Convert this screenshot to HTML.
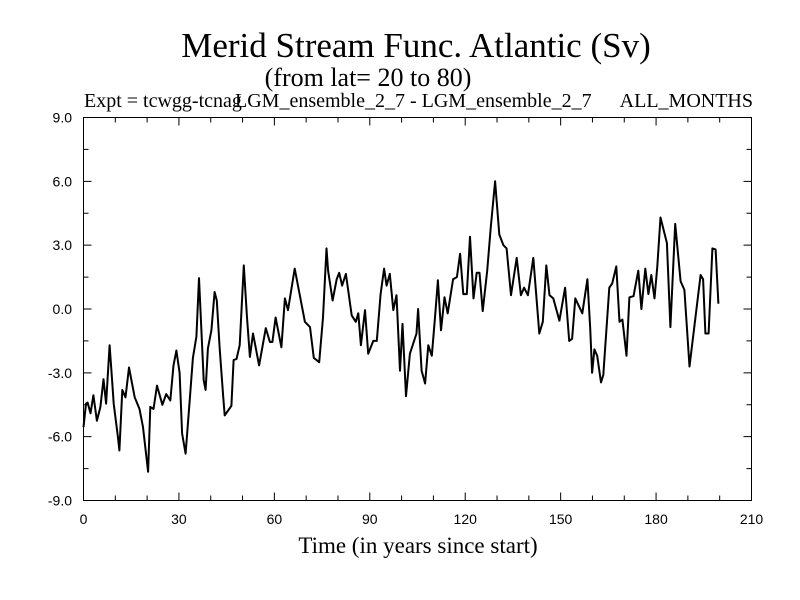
<!DOCTYPE html>
<html><head><meta charset="utf-8"><style>
body{margin:0;background:#fff}
svg{display:block}
text{font-family:"Liberation Serif",serif;fill:#000}
.tk{font-family:"Liberation Sans",sans-serif;font-size:14px}
</style></head><body>
<svg id="chart" width="800" height="600" xmlns="http://www.w3.org/2000/svg">
<text x="416" y="57" font-size="35" text-anchor="middle">Merid Stream Func. Atlantic (Sv)</text>
<text x="368" y="86" font-size="26" text-anchor="middle">(from lat= 20 to 80)</text>
<text x="84" y="107" font-size="20">Expt = tcwgg-tcnag</text>
<text x="235" y="107" font-size="20">LGM_ensemble_2_7 - LGM_ensemble_2_7</text>
<text x="753" y="107" font-size="20" text-anchor="end">ALL_MONTHS</text>
<text x="418" y="553" font-size="23" text-anchor="middle">Time (in years since start)</text>
<g id="axes"></g>
<path id="series" fill="none" stroke="#000" stroke-width="2" stroke-linejoin="round"/>
</svg>
<script>
const years=[0,0.8,1.3,2.2,3.1,4.2,5.3,6.3,7.1,8.2,9.0,9.5,10.8,11.3,12.2,13.2,14.3,16.1,17.6,18.7,20.3,21,22,23.1,24.8,26,27.3,28.3,29.2,30.2,31,32.1,33.4,34.4,35.5,36.3,37.8,38.4,39.1,40.2,41.2,41.9,42.8,43.9,44.4,45.8,46.5,47.2,48.1,49.1,50.4,51.4,52.3,53.3,55.2,57.3,58.6,59.4,60.4,62.2,63.3,64.3,66.4,69.6,71.2,72.4,74.1,75.3,76.4,76.9,78.3,79.6,80.4,81.3,82.5,84.3,85.6,86.4,87.2,88.5,89.5,91.1,92.2,93.4,94.5,95.3,96.3,97.4,98.4,99.5,100.3,101.4,102.6,104.7,105.2,106.3,107.4,108.4,109.5,110.5,111.4,112.4,113.5,114.5,116.2,117.4,118.4,119.4,120.5,121.5,122.6,123.6,124.5,125.5,126.9,128,129.4,130.7,132,133,134.4,136.2,137.5,138.5,139.7,141.4,143.3,144.4,145.5,146.5,147.7,149.6,151.4,152.7,153.6,154.6,156.8,158.4,159.3,159.9,160.6,161.5,162.7,163.4,165.3,166.2,167.5,168.5,169.4,170.7,171.6,172.9,174.4,175.4,176.6,177.6,178.5,179.5,180.4,181.4,183.4,184.5,186,187.7,188.9,190.5,194,194.8,195.5,196.5,197.7,198.7,199.6];
const values=[-5.55,-4.45,-4.4,-4.9,-4.05,-5.25,-4.6,-3.3,-4.45,-1.7,-3.35,-4.45,-6.0,-6.65,-3.8,-4.15,-2.75,-4.15,-4.7,-5.55,-7.65,-4.6,-4.7,-3.6,-4.5,-4.0,-4.3,-2.65,-1.95,-3.0,-5.85,-6.8,-4.3,-2.3,-1.3,1.45,-3.35,-3.8,-1.85,-1.0,0.8,0.4,-1.8,-4.05,-5.0,-4.7,-4.55,-2.4,-2.35,-1.7,2.05,-0.4,-2.25,-1.15,-2.65,-0.9,-1.55,-1.55,-0.4,-1.8,0.5,-0.05,1.9,-0.6,-0.85,-2.3,-2.5,-0.4,2.85,1.8,0.4,1.4,1.7,1.1,1.65,-0.3,-0.6,-0.2,-1.7,-0.05,-2.1,-1.5,-1.5,0.7,1.9,1.1,1.65,-0.05,0.65,-2.9,-0.7,-4.1,-2.1,-1.15,0.0,-2.9,-3.5,-1.7,-2.2,-0.4,1.35,-1.0,0.55,-0.2,1.4,1.5,2.6,0.7,0.7,3.4,0.5,1.7,1.7,-0.1,1.8,3.8,6.0,3.5,3.0,2.85,0.65,2.4,0.65,1.0,0.65,2.4,-1.15,-0.6,2.05,0.65,0.5,-0.55,1.0,-1.5,-1.4,0.5,-0.2,1.4,-0.9,-3.0,-1.9,-2.2,-3.45,-3.1,1.0,1.2,2.0,-0.6,-0.5,-2.2,0.55,0.6,1.8,0.0,1.9,0.7,1.6,0.5,2.0,4.3,3.1,-0.85,4.0,1.3,0.9,-2.7,1.6,1.4,-1.15,-1.15,2.85,2.8,0.25];
const xTicks=[0,30,60,90,120,150,180,210];
const xTickLabels=["0","30","60","90","120","150","180","210"];
const yTicks=[-9,-6,-3,0,3,6,9];
const yTickLabels=["-9.0","-6.0","-3.0","0.0","3.0","6.0","9.0"];
const X0=83.5,X1=751.5,Y0=500.5,Y1=117.5;
const xs=v=>X0+(v-0)/210*(X1-X0);
const ys=v=>Y0-(v+9)/18*(Y0-Y1);
const NS="http://www.w3.org/2000/svg";
const ax=document.getElementById('axes');
function mk(tag,at){const e=document.createElementNS(NS,tag);for(const k in at)e.setAttribute(k,at[k]);ax.appendChild(e);return e;}
const fr=mk('rect',{x:X0,y:Y1,width:X1-X0,height:Y0-Y1,fill:'none',stroke:'#000','stroke-width':1});


let d='';
for(let v=0;v<=210;v+=10){const x=xs(v);const L=(v%30===0)?8:5;d+=`M${x},${Y0}v${-L}M${x},${Y1}v${L}`;}
for(let v=-9;v<=9;v+=1.5){const y=ys(v);const L=(Math.abs(v%3)<1e-9)?8:5;d+=`M${X0},${y}h${L}M${X1},${y}h${-L}`;}
const tp=mk('path',{d:d,stroke:'#000','stroke-width':1,fill:'none'});


xTicks.forEach((v,i)=>{const t=mk('text',{x:xs(v),y:524,'text-anchor':'middle',class:'tk'});t.textContent=xTickLabels[i];

});
yTicks.forEach((v,i)=>{const t=mk('text',{x:72,y:ys(v)+5,'text-anchor':'end',class:'tk'});t.textContent=yTickLabels[i];

});
document.getElementById('series').setAttribute('d',years.map((yr,i)=>(i?'L':'M')+xs(yr).toFixed(1)+','+ys(values[i]).toFixed(1)).join(''));
</script>
</body></html>
